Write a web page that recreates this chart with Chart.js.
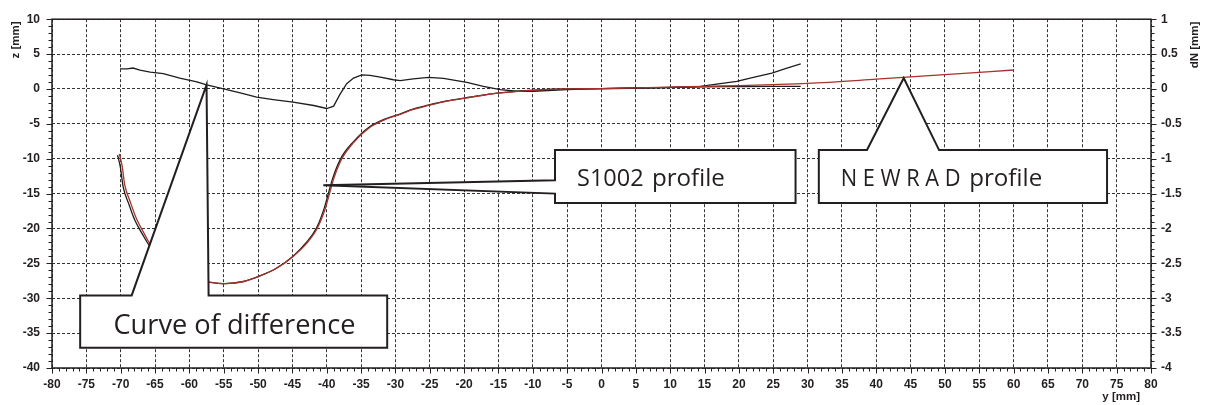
<!DOCTYPE html>
<html><head><meta charset="utf-8">
<script src="https://cdn.jsdelivr.net/npm/chart.js@4.4.1/dist/chart.umd.min.js"></script>
<style>html,body{margin:0;padding:0;background:#fff;}canvas{display:block;}</style>
</head><body>
<canvas id="c" width="1205" height="405"></canvas>
<script>
// ---- data (y lateral [mm], z vertical [mm], dN normal difference [mm]) ----
const newradY = [-70.2,-69.8,-69.4,-68.6,-67.7,-66.7,-65.8,-63.5,-61,-59,-57.2,-54.8,-52.1,-49.7,-47.3,-44.9,-42.9,-41.4,-40.2,-39.6,-39.0,-37.8,-36.1,-33.7,-31.3,-29.3,-27.4,-25.2,-22.5,-19.6,-17.2,-14.75,-9.9,-5.0,0,5,10,15,20,25,30,40,50,60];
const newradZ = [-9.3,-11.0,-13.8,-16.2,-18.6,-20.5,-22.1,-24.5,-26.4,-27.3,-27.65,-27.9,-27.6,-26.8,-25.7,-24.0,-22.1,-20.0,-17.1,-15.0,-12.9,-10.0,-7.7,-5.5,-4.3,-3.65,-2.94,-2.37,-1.75,-1.28,-0.9,-0.57,-0.19,0,0.05,0.15,0.25,0.38,0.48,0.62,0.8,1.4,2.05,2.72];

const s1002Y = [-70.45,-70.05,-69.65,-68.85,-67.95,-66.9,-66.0,-63.6,-61.1,-59.1,-57.2,-54.8,-52.1,-49.75,-47.35,-44.95,-43.0,-41.5,-40.35,-39.75,-39.15,-37.95,-36.2,-33.8,-31.35,-29.35,-27.45,-25.25,-22.55,-19.65,-17.25,-14.8,-9.9,-5.0,0,5,10,15,20,25,29];
const s1002Z = [-9.5,-11.2,-14.0,-16.4,-18.8,-20.7,-22.2,-24.6,-26.5,-27.4,-27.7,-27.9,-27.6,-26.8,-25.7,-24.0,-22.05,-19.95,-17.05,-14.95,-12.85,-9.95,-7.65,-5.45,-4.25,-3.6,-2.9,-2.33,-1.72,-1.25,-0.88,-0.56,-0.18,0,0.05,0.14,0.22,0.3,0.33,0.36,0.38];

const diffY = [-70.1,-69.1,-68.2,-67.2,-65.7,-63.8,-61.4,-58.9,-57.5,-55.0,-52.6,-50.2,-47.8,-44.9,-41.9,-40.0,-39.0,-38.1,-37.1,-36.1,-34.9,-33.7,-32.2,-30.3,-29.3,-27.4,-25.2,-23.0,-19.6,-17.2,-14.75,-12.3,-9.9,-5.0,0,4.7,9.5,14.4,17.3,19.7,22.1,24.8,27.0,29.0];
const diffN = [0.288,0.288,0.30,0.27,0.24,0.22,0.156,0.10,0.057,0,-0.057,-0.118,-0.152,-0.189,-0.237,-0.28,-0.246,-0.081,0.075,0.156,0.203,0.195,0.17,0.132,0.12,0.146,0.166,0.152,0.095,0.038,-0.01,-0.033,-0.033,-0.01,0.004,0.01,0.018,0.038,0.075,0.109,0.166,0.227,0.298,0.36];

const yRange = [-80, 80];
const zRange = [-40, 10];
const dNRange = [-4, 1];

// ---- callout annotations (anchored in data units) ----
const callouts = [
  {kind:'top', box:[-75.9,-31.2,-29.6,-37.1], base:[-68.4,-57.2], tip:[-57.5,0.57],
   parts:[{t:'Curve of difference', dx:33.3, w:242}], size:27, base0:39},
  {kind:'left', box:[-6.77,28.25,-8.76,-16.34], baseZ:[-13.1,-15.0], tip:[-40.5,-13.8],
   parts:[{t:'S1002', dx:22, w:66.6},{t:'profile', dx:96.9, w:73}], size:24, base0:35.6},
  {kind:'top', box:[31.64,73.6,-8.76,-16.34], base:[38.65,49.15], tip:[44.0,1.56],
   parts:[{t:'N E W R A D', dx:21.8, w:120},{t:'profile', dx:150.4, w:73}], size:24, base0:35.6}
];

const toPts = (xs, ys) => xs.map((x, i) => ({x, y: ys[i]}));
const INK = '#231f20';
const tickFont = {family:"'Liberation Sans', Arial, Helvetica, sans-serif", size:12, weight:'bold'};

const calloutPlugin = {
  id:'callouts',
  afterDatasetsDraw(chart){
    const {ctx, scales:{x, y}} = chart;
    ctx.save();
    ctx.lineWidth = 2; ctx.strokeStyle = INK; ctx.fillStyle = '#fff'; ctx.lineJoin = 'miter';
    callouts.forEach(c => {
      const L = x.getPixelForValue(c.box[0]), R = x.getPixelForValue(c.box[1]);
      const T = y.getPixelForValue(c.box[2]), B = y.getPixelForValue(c.box[3]);
      const tx = x.getPixelForValue(c.tip[0]), ty = y.getPixelForValue(c.tip[1]);
      ctx.beginPath();
      if (c.kind === 'top') {
        const b1 = x.getPixelForValue(c.base[0]), b2 = x.getPixelForValue(c.base[1]);
        ctx.moveTo(L, T); ctx.lineTo(b1, T); ctx.lineTo(tx, ty); ctx.lineTo(b2, T);
        ctx.lineTo(R, T); ctx.lineTo(R, B); ctx.lineTo(L, B); ctx.closePath();
      } else {
        const z1 = y.getPixelForValue(c.baseZ[0]), z2 = y.getPixelForValue(c.baseZ[1]);
        ctx.moveTo(L, T); ctx.lineTo(R, T); ctx.lineTo(R, B); ctx.lineTo(L, B);
        ctx.lineTo(L, z2); ctx.lineTo(tx, ty); ctx.lineTo(L, z1); ctx.closePath();
      }
      ctx.fill(); ctx.stroke();
      ctx.fillStyle = INK;
      ctx.font = c.size + "px 'Open Sans', 'Noto Sans', sans-serif";
      ctx.textBaseline = 'alphabetic'; ctx.textAlign = 'left';
      c.parts.forEach(p => {
        const nat = ctx.measureText(p.t).width;
        ctx.save();
        ctx.translate(L + p.dx, T + c.base0);
        ctx.scale(p.w / nat, 1);
        ctx.fillText(p.t, 0, 0);
        ctx.restore();
      });
      ctx.fillStyle = '#fff';
    });
    ctx.restore();
  },
  afterDraw(chart){
    const {ctx, chartArea:a, scales:{x, y, y2}} = chart;
    ctx.save();
    // frame
    ctx.strokeStyle = INK; ctx.lineWidth = 1.5;
    ctx.strokeRect(a.left, a.top, a.right - a.left, a.bottom - a.top);
    // minor/major ticks
    ctx.lineWidth = 1;
    ctx.beginPath();
    for (let v = yRange[0]; v <= yRange[1]; v++) {
      const px = Math.round(x.getPixelForValue(v)) + 0.5;
      const len = v % 5 === 0 ? 5.5 : 3.5;
      ctx.moveTo(px, a.bottom); ctx.lineTo(px, a.bottom + len);
    }
    for (let v = zRange[0]; v <= zRange[1]; v++) {
      const py = Math.round(y.getPixelForValue(v)) + 0.5;
      const len = v % 5 === 0 ? 5.5 : 3.5;
      ctx.moveTo(a.left, py); ctx.lineTo(a.left - len, py);
    }
    for (let k = dNRange[0] * 10; k <= dNRange[1] * 10; k++) {
      const py = Math.round(y2.getPixelForValue(k / 10)) + 0.5;
      const len = k % 5 === 0 ? 5.5 : 3.5;
      ctx.moveTo(a.right, py); ctx.lineTo(a.right + len, py);
    }
    ctx.stroke();
    // axis titles
    ctx.fillStyle = INK;
    ctx.font = "bold 11.5px 'Liberation Sans', Arial, sans-serif";
    ctx.textAlign = 'center'; ctx.textBaseline = 'middle';
    ctx.save(); ctx.translate(15.5, 40); ctx.rotate(-Math.PI / 2); ctx.fillText('z [mm]', 0, 0); ctx.restore();
    ctx.save(); ctx.translate(1195, 45); ctx.rotate(-Math.PI / 2); ctx.fillText('dN [mm]', 0, 0); ctx.restore();
    ctx.textAlign = 'right';
    ctx.fillText('y [mm]', 1140, 397);
    ctx.restore();
  }
};

const fmt = v => String(Number(Number(v).toFixed(2)));

new Chart(document.getElementById('c'), {
  type: 'scatter',
  data: {
    datasets: [
      {label:'NEWRAD profile', data: toPts(newradY, newradZ), yAxisID:'y', showLine:true,
       borderColor:'#a8322a', borderWidth:1.3, pointRadius:0, cubicInterpolationMode:'monotone'},
      {label:'S1002 profile', data: toPts(s1002Y, s1002Z), yAxisID:'y', showLine:true,
       borderColor:'#1e1e1e', borderWidth:1.3, pointRadius:0, cubicInterpolationMode:'monotone'},
      {label:'Curve of difference', data: toPts(diffY, diffN), yAxisID:'y2', showLine:true,
       borderColor:'#1e1e1e', borderWidth:1.3, pointRadius:0, tension:0}
    ]
  },
  options: {
    responsive:false, animation:false,
    layout:{padding:{top:16, left:0, right:0, bottom:0}},
    plugins:{legend:{display:false}, tooltip:{enabled:false}},
    scales:{
      x:{type:'linear', min:yRange[0], max:yRange[1],
         ticks:{stepSize:5, color:INK, font:tickFont, padding:9, maxRotation:0, autoSkip:false, callback:fmt},
         grid:{color:'rgba(0,0,0,0.8)', lineWidth:1, drawTicks:false},
         border:{display:false, dash:[3,2]},
         afterFit(s){ s.height = 37; }},
      y:{type:'linear', position:'left', min:zRange[0], max:zRange[1],
         ticks:{stepSize:5, color:INK, font:tickFont, padding:12, autoSkip:false, callback:fmt},
         grid:{color:'rgba(0,0,0,0.8)', lineWidth:1, drawTicks:false},
         border:{display:false, dash:[3,2]},
         afterFit(s){ s.width = 52; }},
      y2:{type:'linear', position:'right', min:dNRange[0], max:dNRange[1],
         ticks:{stepSize:0.5, color:INK, font:tickFont, padding:10, autoSkip:false, callback:fmt},
         grid:{display:false, drawTicks:false},
         border:{display:false},
         afterFit(s){ s.width = 54; }}
    }
  },
  plugins:[calloutPlugin]
});
</script>
</body></html>
